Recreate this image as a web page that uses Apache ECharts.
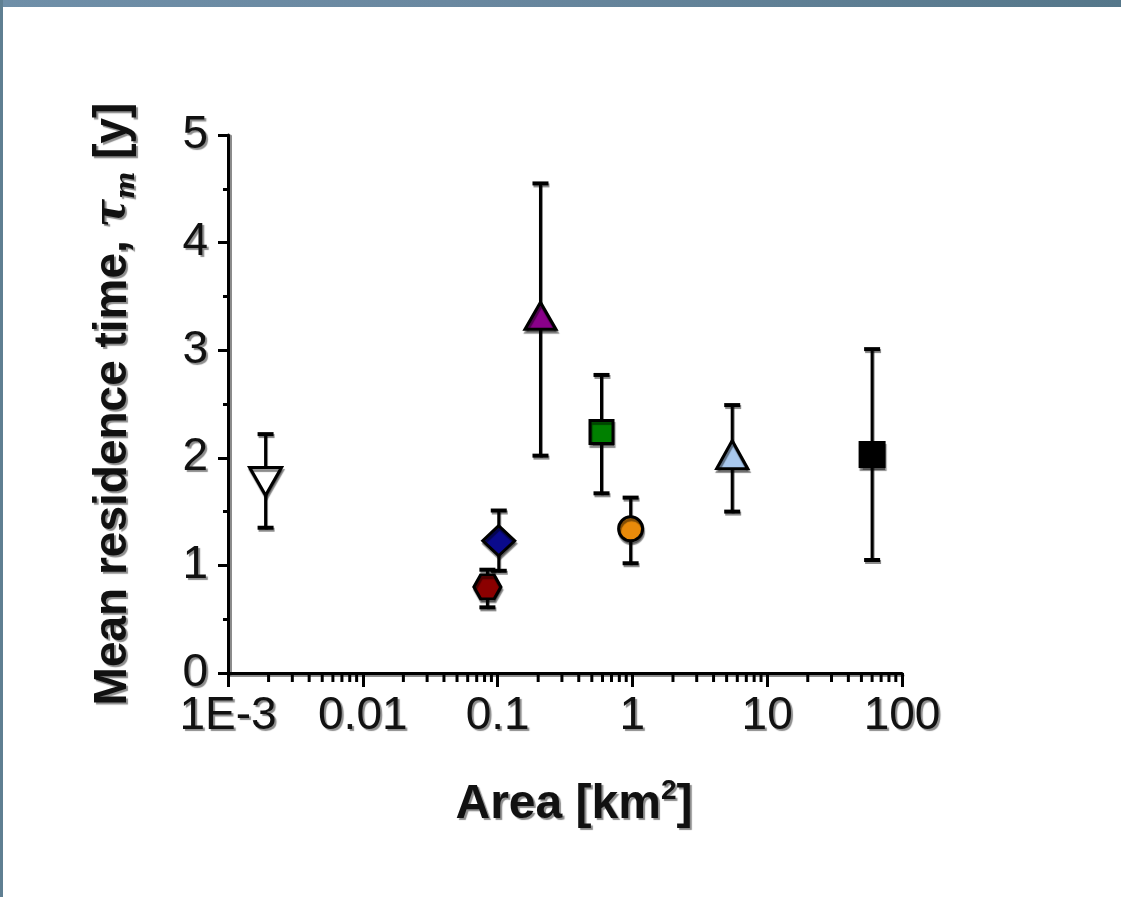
<!DOCTYPE html>
<html>
<head>
<meta charset="utf-8">
<script src="https://cdn.jsdelivr.net/npm/echarts@6/dist/echarts.min.js"></script>
<style>
html,body{margin:0;padding:0;background:#fff;}
#wrap{position:relative;width:1121px;height:897px;overflow:hidden;}
#main{width:1121px;height:897px;}
.edge-top{position:absolute;left:0;top:0;width:1121px;height:7px;background:linear-gradient(to right,#6f8fa8,#6a88a0 40%,#55778a);z-index:2;}
.edge-left{position:absolute;left:0;top:0;width:3px;height:897px;background:#5f7f92;z-index:2;}
</style>
</head>
<body>
<div id="wrap">
<div class="edge-top"></div>
<div class="edge-left"></div>
<div id="main"></div>
</div>
<script>
// data
var areas   = [0.0019, 0.084, 0.102, 0.208, 0.59, 0.97, 5.5, 60];
var tau     = [1.78, 0.80, 1.23, 3.32, 2.24, 1.34, 2.03, 2.03];
var tauHigh = [2.22, 0.96, 1.51, 4.55, 2.77, 1.63, 2.49, 3.01];
var tauLow  = [1.35, 0.61, 0.95, 2.02, 1.67, 1.02, 1.50, 1.05];
var xTickLabels = ['1E-3', '0.01', '0.1', '1', '10', '100'];
var yTickLabels = ['0', '1', '2', '3', '4', '5'];

// marker look for each point (same order as the data)
var hexPath = 'path://M-1,0 L-0.5,-0.866 L0.5,-0.866 L1,0 L0.5,0.866 L-0.5,0.866 Z';
var markers = [
	{symbol: 'triangle', rotate: 180, size: [32, 28], color: '#ffffff'},
	{symbol: hexPath, rotate: 0, size: [27, 24], color: '#8b0000'},
	{symbol: 'diamond', rotate: 0, size: [32, 30], color: '#0a0a8c'},
	{symbol: 'triangle', rotate: 0, size: [31, 27], color: '#8a008a'},
	{symbol: 'rect', rotate: 0, size: [23, 23], color: '#008000'},
	{symbol: 'circle', rotate: 0, size: [24, 24], color: '#e88a0a'},
	{symbol: 'triangle', rotate: 0, size: [31, 28], color: '#a8c8ee'},
	{symbol: 'rect', rotate: 0, size: [24, 24], color: '#000000'}
];

// minor tick positions of the log axis (2..9 per decade)
var minorTicks = [];
for (var k = -3; k <= 1; k++) {
	for (var m = 2; m <= 9; m++) {
		minorTicks.push([m * Math.pow(10, k), 0]);
	}
}

var shadow = 'rgba(0,0,0,0.45)';
var font = "'Liberation Sans', Arial, sans-serif";

var myChart = echarts.init(document.getElementById('main'));

var scatterData = areas.map(function (a, i) {
	var mk = markers[i];
	return {
		value: [a, tau[i]],
		symbol: mk.symbol,
		symbolRotate: mk.rotate,
		symbolSize: mk.size,
		itemStyle: {color: mk.color}
	};
});

var errData = areas.map(function (a, i) {
	return [a, tauLow[i], tauHigh[i]];
});

var option = {
	animation: false,
	grid: {left: 228, right: 219, top: 135, bottom: 224},
	xAxis: {
		type: 'log',
		logBase: 10,
		min: 0.001,
		max: 100,
		name: 'Area [km{sup|2}]',
		nameLocation: 'middle',
		nameGap: 104,
		nameTextStyle: {
			fontFamily: font, fontSize: 48, fontWeight: 'bold', color: '#111',
			lineHeight: 56,
			padding: [0, 0, 0, 18],
			textShadowColor: shadow, textShadowOffsetX: 2, textShadowOffsetY: 2, textShadowBlur: 1,
			rich: {
				sup: {fontFamily: font, fontSize: 28, fontWeight: 'bold', color: '#111', verticalAlign: 'top', lineHeight: 52,
					textShadowColor: shadow, textShadowOffsetX: 2, textShadowOffsetY: 2, textShadowBlur: 1}
			}
		},
		axisLine: {lineStyle: {color: '#000', width: 3, shadowColor: shadow, shadowOffsetX: 1, shadowOffsetY: 2}},
		axisTick: {length: 14, lineStyle: {color: '#000', width: 3}},
		axisLabel: {
			margin: 20,
			fontFamily: font, fontSize: 46, color: '#111',
			textShadowColor: shadow, textShadowOffsetX: 2, textShadowOffsetY: 2, textShadowBlur: 1,
			formatter: function (v) {
				var i = Math.round(Math.log10(v)) + 3;
				return xTickLabels[i];
			}
		},
		splitLine: {show: false}
	},
	yAxis: {
		type: 'value',
		min: 0,
		max: 5,
		interval: 1,
		name: 'Mean residence time, {t|τ}{s|m} [y]',
		nameLocation: 'middle',
		nameGap: 88,
		nameTextStyle: {
			fontFamily: font, fontSize: 46, fontWeight: 'bold', color: '#111',
			lineHeight: 54,
			textShadowColor: shadow, textShadowOffsetX: 2, textShadowOffsetY: 2, textShadowBlur: 1,
			rich: {
				t: {fontFamily: "'DejaVu Serif', serif", fontSize: 42, fontStyle: 'italic', fontWeight: 'bold', color: '#111', lineHeight: 54,
					textShadowColor: shadow, textShadowOffsetX: 2, textShadowOffsetY: 2, textShadowBlur: 1},
				s: {fontFamily: "'DejaVu Serif', serif", fontSize: 26, fontStyle: 'italic', fontWeight: 'bold', color: '#111', verticalAlign: 'bottom', lineHeight: 54,
					textShadowColor: shadow, textShadowOffsetX: 2, textShadowOffsetY: 2, textShadowBlur: 1}
			}
		},
		axisLine: {show: true, lineStyle: {color: '#000', width: 3, shadowColor: shadow, shadowOffsetX: 2, shadowOffsetY: 1}},
		axisTick: {show: true, length: 10, lineStyle: {color: '#000', width: 3}},
		minorTick: {show: true, splitNumber: 2, length: 5, lineStyle: {color: '#000', width: 3}},
		axisLabel: {
			margin: 20,
			fontFamily: font, fontSize: 46, color: '#111',
			textShadowColor: shadow, textShadowOffsetX: 2, textShadowOffsetY: 2, textShadowBlur: 1,
			formatter: function (v) {
				return yTickLabels[Math.round(v)];
			}
		},
		splitLine: {show: false},
		minorSplitLine: {show: false}
	},
	series: [
		{
			// minor ticks on the log axis
			type: 'custom',
			clip: false,
			silent: true,
			data: minorTicks,
			renderItem: function (params, api) {
				var p = api.coord([api.value(0), 0]);
				return {
					type: 'line',
					shape: {x1: p[0], y1: p[1], x2: p[0], y2: p[1] + 9},
					style: {stroke: '#000', lineWidth: 3}
				};
			}
		},
		{
			// error bars
			type: 'custom',
			clip: false,
			silent: true,
			data: errData,
			encode: {x: 0, y: [1, 2]},
			renderItem: function (params, api) {
				var lo = api.coord([api.value(0), api.value(1)]);
				var hi = api.coord([api.value(0), api.value(2)]);
				var cw = 8;
				var st = {stroke: '#000', lineWidth: 3, shadowColor: shadow, shadowOffsetX: 1, shadowOffsetY: 2};
				var cst = {stroke: '#000', lineWidth: 4, shadowColor: shadow, shadowOffsetX: 1, shadowOffsetY: 2};
				return {
					type: 'group',
					children: [
						{type: 'line', shape: {x1: lo[0], y1: lo[1], x2: hi[0], y2: hi[1]}, style: st},
						{type: 'line', shape: {x1: hi[0] - cw, y1: hi[1], x2: hi[0] + cw, y2: hi[1]}, style: cst},
						{type: 'line', shape: {x1: lo[0] - cw, y1: lo[1], x2: lo[0] + cw, y2: lo[1]}, style: cst}
					]
				};
			}
		},
		{
			type: 'scatter',
			z: 5,
			data: scatterData,
			itemStyle: {
				borderColor: '#000',
				borderWidth: 3,
				opacity: 1,
				shadowColor: shadow,
				shadowOffsetX: 1,
				shadowOffsetY: 3,
				shadowBlur: 1
			}
		}
	]
};
myChart.setOption(option);
</script>
</body>
</html>
